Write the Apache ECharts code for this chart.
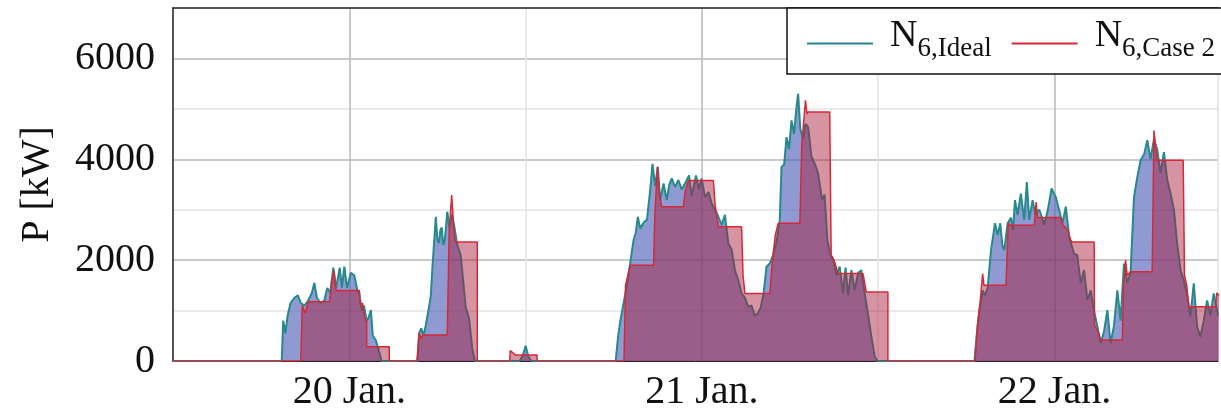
<!DOCTYPE html>
<html>
<head>
<meta charset="utf-8">
<script src="https://cdn.jsdelivr.net/npm/echarts@6/dist/echarts.min.js"></script>
<style>
  html, body { margin: 0; padding: 0; background: #fff; }
  #chart { width: 1221px; height: 412px; }
</style>
</head>
<body>
<div id="chart"></div>
<script>
// Hours relative to 20 Jan 00:00, power in kW
const dayLabels = ['20 Jan.', '21 Jan.', '22 Jan.'];
const yTickValues = [0, 2000, 4000, 6000];

const idealDay20a = [[-4.75,0],[-4.6,0],[-4.5,800],[-4.35,550],[-4.2,900],[-4.0,1150],[-3.75,1250],[-3.5,1300],[-3.3,1150],[-3.05,1100],[-2.8,1200],[-2.55,1350],[-2.38,1550],[-2.2,1250],[-1.95,1150],[-1.7,1200],[-1.5,1450],[-1.3,1350],[-1.09,1850],[-0.9,1450],[-0.65,1850],[-0.5,1450],[-0.34,1870],[-0.15,1450],[0.1,1750],[0.34,1700],[0.55,1400],[0.68,1350],[0.85,1000],[1.0,1100],[1.18,800],[1.3,850],[1.47,1010],[1.6,500],[1.8,415],[2.0,220],[2.2,0]];
const idealDay20b = [[4.5,0],[4.65,0],[4.75,550],[4.9,650],[5.05,500],[5.2,700],[5.43,1075],[5.55,1300],[5.66,1870],[5.89,2860],[6.0,2400],[6.11,2340],[6.2,2600],[6.29,2650],[6.4,2300],[6.5,2400],[6.67,2960],[6.8,2650],[6.97,2900],[7.13,2700],[7.35,2300],[7.58,2100],[7.75,1600],[7.92,1075],[8.15,850],[8.37,250],[8.55,0]];
const idealDay20c = [[11.6,0],[11.8,100],[12.0,300],[12.2,80],[12.4,0]];
const idealDay21 = [[18.13,0],[18.3,500],[18.45,800],[18.67,1150],[18.9,1500],[19.12,1940],[19.35,2400],[19.5,2550],[19.64,2860],[19.8,2630],[20.05,2750],[20.26,2800],[20.48,3390],[20.64,3910],[20.82,3470],[21.0,3850],[21.16,3190],[21.39,3520],[21.61,3190],[21.78,3500],[21.95,3620],[22.17,3450],[22.4,3590],[22.63,3400],[22.9,3550],[23.13,3680],[23.3,3270],[23.6,3680],[23.8,3400],[23.98,3620],[24.21,3250],[24.45,3350],[24.67,3120],[24.9,3000],[25.12,2860],[25.35,2700],[25.57,2900],[25.8,2330],[26.03,2200],[26.25,1800],[26.48,1600],[26.7,1340],[26.93,1250],[27.16,1075],[27.38,1100],[27.6,900],[27.79,940],[28.0,1050],[28.2,1340],[28.4,1870],[28.63,1940],[28.85,2100],[29.07,2350],[29.3,2790],[29.42,3850],[29.6,3900],[29.76,4440],[29.93,4200],[30.1,4770],[30.27,4500],[30.44,5040],[30.55,5300],[30.7,4600],[30.89,4400],[31.05,4700],[31.23,4640],[31.46,4050],[31.7,3900],[31.91,3720],[32.18,3190],[32.35,3300],[32.54,2400],[32.75,2100],[32.93,2020],[33.15,1700],[33.38,1870],[33.6,1340],[33.78,1850],[33.95,1300],[34.18,1800],[34.4,1400],[34.63,1750],[34.85,1800],[35.08,1340],[35.3,940],[35.5,550],[35.76,90],[35.94,0]];
const idealDay22 = [[42.55,0],[42.7,500],[42.89,1010],[43.11,1400],[43.28,1300],[43.45,1450],[43.68,2200],[43.95,2730],[44.13,2500],[44.31,2730],[44.45,2300],[44.58,2200],[44.81,2730],[45.04,2840],[45.18,2600],[45.31,3190],[45.49,2900],[45.71,3320],[45.94,2800],[46.12,3550],[46.28,2800],[46.51,3190],[46.7,2900],[46.96,3000],[47.15,2850],[47.3,2700],[47.55,3000],[47.8,3420],[48.09,3250],[48.32,2990],[48.54,2730],[48.77,3060],[49.0,2460],[49.33,2130],[49.55,2100],[49.79,1540],[50.01,1800],[50.24,1210],[50.47,1400],[50.69,1000],[50.92,680],[51.15,350],[51.38,600],[51.6,1010],[51.82,350],[52.05,700],[52.28,1400],[52.5,800],[52.73,1930],[52.96,1550],[53.18,1750],[53.41,3250],[53.64,3650],[53.86,3980],[54.1,4100],[54.32,4380],[54.54,4000],[54.77,4400],[54.99,4200],[55.22,3720],[55.45,4140],[55.67,3600],[55.9,3320],[56.13,3000],[56.35,2330],[56.58,1800],[56.8,1600],[57.03,1300],[57.25,880],[57.48,1540],[57.71,680],[57.93,480],[58.16,800],[58.39,1200],[58.61,900],[58.84,1340],[59.13,900]];

const caseDay20 = [[-12,0],[-3.3,0],[-3.2,1100],[-3.0,950],[-2.8,1175],[-1.35,1175],[-1.2,1550],[-1.05,1800],[-0.9,1400],[0.68,1400],[0.75,1100],[0.9,1150],[1.05,850],[1.18,800],[1.18,285],[2.72,285],[2.72,0],[4.6,0],[4.75,550],[4.9,450],[5.0,515],[6.67,515],[6.8,2600],[6.97,3290],[7.1,2700],[7.2,2360],[8.71,2360],[8.71,0],[10.92,0],[10.95,205],[11.3,120],[12.78,120],[12.78,0]];
const caseDay21 = [[18.7,0],[18.8,1500],[19.0,1750],[19.12,1900],[20.71,1900],[20.8,2900],[20.97,3850],[21.1,3300],[21.27,3060],[22.74,3060],[22.85,3350],[23.08,3580],[24.78,3580],[24.9,3100],[25.12,2660],[26.7,2660],[26.8,1700],[26.93,1340],[28.63,1340],[28.8,2000],[29.0,2500],[29.19,2730],[30.67,2730],[30.8,4300],[31.05,5170],[31.15,4900],[31.23,4940],[32.7,4940],[32.8,2100],[33.0,2000],[33.27,1735],[34.96,1735],[35.05,1600],[35.19,1370],[36.66,1370],[36.66,0]];
const caseDay22 = [[42.6,0],[42.75,700],[42.95,1200],[43.11,1735],[43.2,1500],[44.7,1500],[44.85,2730],[45.0,2690],[46.62,2690],[46.75,3150],[46.85,2845],[48.43,2845],[48.55,2700],[48.9,2600],[49.1,2400],[49.22,2360],[50.7,2360],[50.72,700],[50.95,600],[51.14,415],[52.62,415],[52.7,1500],[52.84,2000],[52.95,1700],[53.18,1770],[54.65,1770],[54.77,4570],[54.9,4200],[54.99,3980],[56.76,3980],[56.85,1700],[57.0,1500],[57.15,1075],[58.95,1075],[59.05,1350],[59.2,1300]];

const idealData = [[-12,0]].concat(idealDay20a, idealDay20b, idealDay20c, idealDay21, idealDay22);
const caseData = [].concat(caseDay20, caseDay21, caseDay22);

const FONT = 'Liberation Serif';
const X_MIN = -12, X_MAX = 59.13;

const chart = echarts.init(document.getElementById('chart'), null, { renderer: 'canvas' });
chart.setOption({
  animation: false,
  backgroundColor: '#ffffff',
  textStyle: { fontFamily: FONT },
  grid: { left: 173, right: 0, top: 8, bottom: 51, containLabel: false },
  legend: {
    left: 787, top: 8,
    width: 700,
    orient: 'horizontal',
    backgroundColor: '#ffffff',
    borderColor: '#111111',
    borderWidth: 1.5,
    borderRadius: 0,
    padding: [9, 40, 12, 20],
    itemGap: 20,
    itemWidth: 66,
    itemHeight: 2,
    data: [
      { name: 'N6,Ideal', icon: 'rect' },
      { name: 'N6,Case 2', icon: 'rect' }
    ],
    formatter: function (name) {
      return '{n|N}{s|' + name.slice(1) + '}';
    },
    textStyle: {
      fontFamily: FONT,
      rich: {
        n: { fontFamily: FONT, fontSize: 38, lineHeight: 37, color: '#111', padding: [0, 0, 7, 12], verticalAlign: 'bottom' },
        s: { fontFamily: FONT, fontSize: 27, lineHeight: 27, color: '#111', verticalAlign: 'bottom' }
      }
    }
  },
  xAxis: [{
    type: 'value',
    min: X_MIN, max: X_MAX, interval: 12,
    position: 'bottom',
    axisLine: { show: true, onZero: false, lineStyle: { color: '#222', width: 1 } },
    axisTick: { show: false },
    axisLabel: {
      margin: 11,
      fontFamily: FONT, fontSize: 40, color: '#111',
      formatter: function (v) {
        if (Math.abs(v % 24) < 1e-6 && v >= 0) return dayLabels[v / 24] || '';
        return '';
      }
    },
    splitLine: { show: true, lineStyle: { color: ['#e3e3e3', '#b8b8b8'], width: 1.5 } }
  }, {
    type: 'value',
    min: X_MIN, max: X_MAX,
    position: 'top',
    axisLine: { show: true, onZero: false, lineStyle: { color: '#222', width: 1.5 } },
    axisTick: { show: false },
    axisLabel: { show: false },
    splitLine: { show: false }
  }],
  yAxis: {
    type: 'value',
    min: 0, max: 7000, interval: 1000,
    name: 'P [kW]',
    nameLocation: 'middle',
    nameGap: 116,
    nameRotate: 90,
    nameTextStyle: { fontFamily: FONT, fontSize: 40, color: '#111' },
    axisLine: { show: true, onZero: false, lineStyle: { color: '#222', width: 1.5 } },
    axisTick: { show: false },
    axisLabel: {
      margin: 18,
      fontFamily: FONT, fontSize: 40, color: '#111',
      formatter: function (v) { return yTickValues.indexOf(v) >= 0 ? String(v) : ''; }
    },
    splitLine: { show: true, lineStyle: { color: ['#b8b8b8', '#e3e3e3'], width: 1.5 } }
  },
  series: [{
    name: 'N6,Ideal',
    type: 'line',
    xAxisIndex: 0,
    data: idealData,
    showSymbol: false,
    symbol: 'none',
    lineStyle: { color: '#268a8c', width: 2 },
    itemStyle: { color: '#268a8c' },
    areaStyle: { color: 'rgba(82,98,186,0.92)', origin: 'start' },
    z: 2
  }, {
    name: 'N6,Case 2',
    type: 'line',
    xAxisIndex: 0,
    data: caseData,
    showSymbol: false,
    symbol: 'none',
    lineStyle: { color: '#d42a38', width: 1.5 },
    itemStyle: { color: '#d42a38' },
    areaStyle: { color: 'rgba(168,30,62,0.68)', origin: 'start' },
    z: 3
  }]
});
</script>
</body>
</html>
